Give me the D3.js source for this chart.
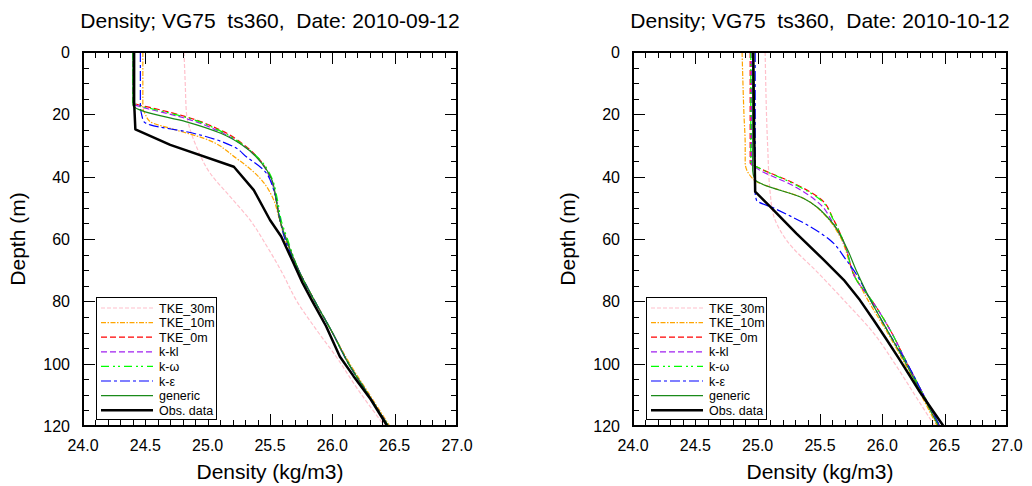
<!DOCTYPE html>
<html>
<head>
<meta charset="utf-8">
<script src="https://cdn.jsdelivr.net/npm/d3@7"></script>
<style>
  body { margin: 0; background: #fff; }
  text { font-family: "Liberation Sans", Arial, sans-serif; fill: #000; }
</style>
</head>
<body>
<div id="chart-area"></div>
<script>
// panel titles + legend names
var titles = ["Density; VG75  ts360,  Date: 2010-09-12", "Density; VG75  ts360,  Date: 2010-10-12"]
var names = ["TKE_30m", "TKE_10m", "TKE_0m", "k-kl", "k-\u03c9", "k-\u03b5", "generic", "Obs. data"]
var xTicks = [24.0, 24.5, 25.0, 25.5, 26.0, 26.5, 27.0]
var yTicks = [0, 20, 40, 60, 80, 100, 120]

// [density, depth] (2010-09-12)
var sepTke30 = [[24.81,0],[24.82,10],[24.83,19.7],[24.86,25],[24.91,30.4],[25.02,38.9],[25.18,46.4],[25.34,53.9],[25.47,62],[25.60,71],[25.71,79.6],[25.87,89],[26.03,97.7],[26.20,108],[26.42,120]]
var sepTke10 = [[24.48,0],[24.48,18],[24.50,20],[24.54,22.4],[24.70,24.5],[24.97,27.7],[25.23,34.1],[25.42,40.5],[25.53,47.5],[25.57,52.8],[25.62,60],[25.73,70],[25.86,80],[26.00,90],[26.14,100],[26.30,110],[26.46,120]]
var sepTke0 = [[24.40,0],[24.40,16],[24.45,17],[24.56,18],[24.83,20.8],[25.10,25],[25.31,30.4],[25.42,34.7],[25.50,40],[25.55,47.5],[25.58,54],[25.63,60],[25.73,70],[25.86,80],[26.00,90],[26.13,100],[26.29,110],[26.45,120]]
var sepKkl = [[24.40,0],[24.40,16.5],[24.47,17.7],[24.56,18.6],[24.83,21.4],[25.10,25.6],[25.31,30.8],[25.42,35],[25.50,40.3],[25.55,47.5],[25.58,54],[25.63,60],[25.73,70],[25.86,80],[26.00,90],[26.13,100],[26.29,110],[26.45,120]]
var sepKw = [[24.40,0],[24.40,16.2],[24.46,17.3],[24.56,18.3],[24.83,21],[25.10,25.3],[25.31,30.6],[25.43,35],[25.51,40],[25.56,47.5],[25.59,54],[25.64,60],[25.73,70],[25.86,80],[26.00,90],[26.13,100],[26.29,110],[26.45,120]]
var sepKe = [[24.46,0],[24.46,17],[24.47,20],[24.49,22.4],[24.54,23.4],[24.83,25.6],[25.21,30.4],[25.31,33.6],[25.45,37.9],[25.53,44.3],[25.57,51.8],[25.62,60],[25.73,70],[25.86,80],[26.00,90],[26.13,100],[26.29,110],[26.45,120]]
var sepGen = [[24.40,0],[24.40,17],[24.45,18.5],[24.50,19.2],[24.83,22.4],[25.10,26],[25.31,30.8],[25.43,35.5],[25.51,40.5],[25.55,47.5],[25.58,54],[25.63,60],[25.73,70],[25.86,80],[26.00,90],[26.13,100],[26.29,110],[26.45,120]]
var sepObs = [[24.41,0],[24.41,16],[24.42,24.8],[24.70,29.8],[25.21,36.8],[25.37,44.3],[25.50,53.9],[25.59,59.2],[25.68,67],[25.76,74],[25.84,80],[25.95,88],[26.06,97.7],[26.17,104],[26.30,111],[26.44,120]]

// [density, depth] (2010-10-12)
var octTke30 = [[25.06,0],[25.08,30],[25.10,45],[25.13,52.8],[25.23,60.3],[25.50,71.5],[25.70,80],[25.93,90.2],[26.10,100],[26.26,110],[26.42,120]]
var octTke10 = [[24.875,0],[24.89,20],[24.90,30],[24.90,35.6],[24.97,41],[25.37,47],[25.55,52.8],[25.66,59.2],[25.76,70],[25.89,80],[26.04,90],[26.18,100],[26.31,110],[26.44,120]]
var octTke0 = [[24.94,0],[24.94,20],[24.94,35.7],[25.00,37],[25.29,42.1],[25.50,47],[25.61,53.9],[25.70,62],[25.79,73],[25.92,80],[26.06,89],[26.20,100],[26.33,110],[26.46,120]]
var octKkl = [[24.95,0],[24.95,36],[25.00,37.5],[25.29,43],[25.50,48.8],[25.60,54.5],[25.70,62],[25.79,73],[25.92,80],[26.06,89],[26.20,100],[26.33,110],[26.46,120]]
var octKw = [[24.945,0],[24.945,35.8],[25.00,37],[25.29,42.3],[25.50,47.3],[25.61,54],[25.70,62],[25.79,73],[25.92,80],[26.06,89],[26.20,100],[26.33,110],[26.46,120]]
var octKe = [[24.98,0],[24.98,45],[24.99,47.5],[25.13,50.1],[25.42,56],[25.58,60.3],[25.71,66.7],[25.77,70],[25.91,80],[26.05,90],[26.20,100],[26.33,110],[26.46,120]]
var octGen = [[24.96,0],[24.96,38],[24.98,41],[25.37,47],[25.58,53.9],[25.71,62.5],[25.79,70],[25.91,80],[26.05,90],[26.19,100],[26.32,110],[26.45,120]]
var octObs = [[24.965,0],[24.97,20],[24.98,44.8],[25.10,49.6],[25.31,58.2],[25.53,66.7],[25.69,73.1],[25.82,79.6],[25.93,86],[26.03,92],[26.14,98.8],[26.30,109],[26.49,120]]

var panels = [
    [sepTke30, sepTke10, sepTke0, sepKkl, sepKw, sepKe, sepGen, sepObs],
    [octTke30, octTke10, octTke0, octKkl, octKw, octKe, octGen, octObs]
]

// line styles, same order as names
var colours = ["#ffc0cb", "#ffa500", "#ff0000", "#a020f0", "#00ff00", "#0000ff", "#1a8a1a", "#000000"]
var dashes = ["4,2", "5,1.5,1.5,1.5", "6,3", "6,3", "8,4,2,3,2,4", "10,3,3,3", null, null]
var widths = [1.2, 1.2, 1.2, 1.2, 1.2, 1.2, 1.2, 2.5]

const PLOT_SIZE = 374
const PLOT_TOP = 52
var plotLefts = [83, 633]

var svg = d3.select('#chart-area').append("svg")
    .attr("width", 1032)
    .attr("height", 486)

var xScale = d3.scaleLinear().domain([24, 27]).range([0, PLOT_SIZE])
var yScale = d3.scaleLinear().domain([0, 120]).range([0, PLOT_SIZE])

// model output is smooth, obs profile keeps its kinks
var modelLine = d3.line()
    .x(function(d){ return xScale(d[0]) })
    .y(function(d){ return yScale(d[1]) })
    .curve(d3.curveMonotoneY)
var obsLine = d3.line()
    .x(function(d){ return xScale(d[0]) })
    .y(function(d){ return yScale(d[1]) })

svg.append("defs").append("clipPath")
    .attr("id", "plotclip")
    .append("rect")
    .attr("width", PLOT_SIZE)
    .attr("height", PLOT_SIZE)

panels.forEach(function(series, p){
    var g = svg.append("g")
        .attr("transform", "translate(" + plotLefts[p] + "," + PLOT_TOP + ")")

    //curves
    var curves = g.append("g").attr("clip-path", "url(#plotclip)")
    series.forEach(function(s, i){
        curves.append("path")
            .datum(s)
            .attr("d", i == 7 ? obsLine : modelLine)
            .attr("fill", "none")
            .attr("stroke", colours[i])
            .attr("stroke-width", widths[i])
            .attr("stroke-dasharray", dashes[i])
            .attr("stroke-linejoin", "round")
    })

    //inward ticks on all four sides
    var xMajor = d3.range(24, 27.01, 0.5)
    var xMinor = d3.range(24, 27.01, 0.1)
    var yMajor = d3.range(0, 121, 20)
    var yMinor = d3.range(0, 121, 5)
    var ticks = g.append("g")
        .attr("stroke", "#000")
        .attr("stroke-width", 1)
        .attr("shape-rendering", "crispEdges")
    function addX(vals, len){
        vals.forEach(function(v){
            var x = Math.round(xScale(v)) + 0.5
            ticks.append("line").attr("x1", x).attr("x2", x).attr("y1", PLOT_SIZE).attr("y2", PLOT_SIZE - len)
            ticks.append("line").attr("x1", x).attr("x2", x).attr("y1", 0).attr("y2", len)
        })
    }
    function addY(vals, len){
        vals.forEach(function(v){
            var y = Math.round(yScale(v)) + 0.5
            ticks.append("line").attr("x1", 0).attr("x2", len).attr("y1", y).attr("y2", y)
            ticks.append("line").attr("x1", PLOT_SIZE).attr("x2", PLOT_SIZE - len).attr("y1", y).attr("y2", y)
        })
    }
    addX(xMinor, 6)
    addX(xMajor, 12)
    addY(yMinor, 6)
    addY(yMajor, 12)

    g.append("rect")
        .attr("width", PLOT_SIZE)
        .attr("height", PLOT_SIZE)
        .attr("fill", "none")
        .attr("stroke", "#000")
        .attr("stroke-width", 1.2)
        .attr("shape-rendering", "crispEdges")

    //tick labels
    xTicks.forEach(function(v){
        g.append("text")
            .attr("x", xScale(v))
            .attr("y", PLOT_SIZE + 25)
            .attr("font-size", "16px")
            .attr("text-anchor", "middle")
            .text(d3.format(".1f")(v))
    })
    yTicks.forEach(function(v){
        g.append("text")
            .attr("x", -13)
            .attr("y", yScale(v) + 6)
            .attr("font-size", "16px")
            .attr("text-anchor", "end")
            .text(v)
    })

    //titles
    g.append("text")
        .attr("x", PLOT_SIZE / 2)
        .attr("y", -24)
        .attr("font-size", "21px")
        .attr("text-anchor", "middle")
        .attr("xml:space", "preserve")
        .style("white-space", "pre")
        .text(titles[p])

    g.append("text")
        .attr("x", PLOT_SIZE / 2)
        .attr("y", PLOT_SIZE + 53)
        .attr("font-size", "21px")
        .attr("text-anchor", "middle")
        .text("Density (kg/m3)")

    g.append("text")
        .attr("transform", "rotate(-90)")
        .attr("x", -PLOT_SIZE / 2)
        .attr("y", -58)
        .attr("font-size", "21px")
        .attr("text-anchor", "middle")
        .text("Depth (m)")

    //legend box, bottom left
    var legend = g.append("g")
        .attr("transform", "translate(13,245)")
    legend.append("rect")
        .attr("width", 120)
        .attr("height", 122)
        .attr("fill", "#fff")
        .attr("stroke", "#000")
        .attr("stroke-width", 1)
        .attr("shape-rendering", "crispEdges")
    names.forEach(function(name, i){
        var row = legend.append("g")
            .attr("transform", "translate(0," + (11 + i * 14.6) + ")")
        row.append("line")
            .attr("x1", 5)
            .attr("x2", 57)
            .attr("stroke", colours[i])
            .attr("stroke-width", widths[i])
            .attr("stroke-dasharray", dashes[i])
        row.append("text")
            .attr("x", 63)
            .attr("y", 4.5)
            .attr("font-size", "12.5px")
            .text(name)
    })
})
</script>
</body>
</html>
